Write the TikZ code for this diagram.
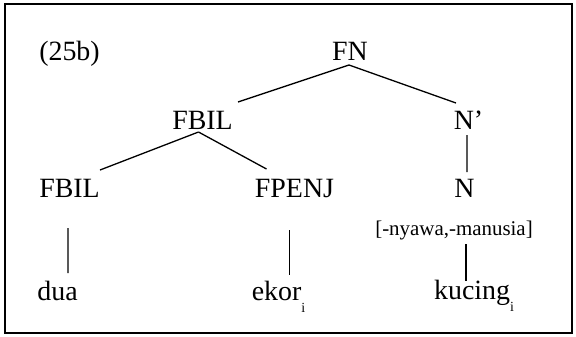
\documentclass[tikz,border=0pt]{standalone}
\usepackage{fontspec}
\setmainfont{Liberation Serif}
\usetikzlibrary{calc}
\newcommand{\subidx}{\raisebox{-12bp}{\fontsize{14}{14}\selectfont i}}
\begin{document}
\begin{tikzpicture}[x=1bp,y=-1bp,
  lbl/.style={anchor=base,inner sep=0pt,font=\fontsize{28}{30}\selectfont},
  featlbl/.style={anchor=base,inner sep=0pt,font=\fontsize{21}{23}\selectfont},
  branch/.style={line width=1.3bp}]
\useasboundingbox (0,0) rectangle (576,336);
\draw[line width=1.8bp] (5,4) rectangle (572,333);
\node[lbl] (ex) at (69.5,60) {(25b)};
\node[lbl] (FN) at (350,60) {FN};
\node[lbl] (FBIL1) at (202.5,129) {FBIL};
\node[lbl] (Nprime) at (468.5,129) {N’};
\node[lbl] (FBIL2) at (69.5,197) {FBIL};
\node[lbl] (FPENJ) at (294.5,197) {FPENJ};
\node[lbl] (N) at (464.5,197) {N};
\node[featlbl] (feat) at (454,235) {[-nyawa,-manusia]};
\node[lbl] (dua) at (57.5,300) {dua};
\node[lbl] (ekor) at (278.5,300) {ekor\subidx};
\node[lbl] (kucing) at (474,299) {kucing\subidx};
\draw[branch] ($(FN.base)+(-1,5)$) -- ($(FBIL1.base)+(35.5,-27)$);
\draw[branch] ($(FN.base)+(-1,5)$) -- ($(Nprime.base)+(-12.5,-26)$);
\draw[branch] ($(FBIL1.base)+(-4,3)$) -- ($(FBIL2.base)+(30.5,-27)$);
\draw[branch] ($(FBIL1.base)+(-4,3)$) -- ($(FPENJ.base)+(-28,-28)$);
\draw[branch] ($(Nprime.base)+(-1.5,6)$) -- ($(N.base)+(2.5,-25)$);
\draw[branch] ($(FBIL2.base)+(-1.5,31)$) -- ($(dua.base)+(10.5,-27)$);
\draw[branch] ($(FPENJ.base)+(-5,33)$) -- ($(ekor.base)+(11,-25)$);
\draw[branch] ($(feat.base)+(12,9)$) -- ($(kucing.base)+(-8,-18)$);
\end{tikzpicture}
\end{document}
